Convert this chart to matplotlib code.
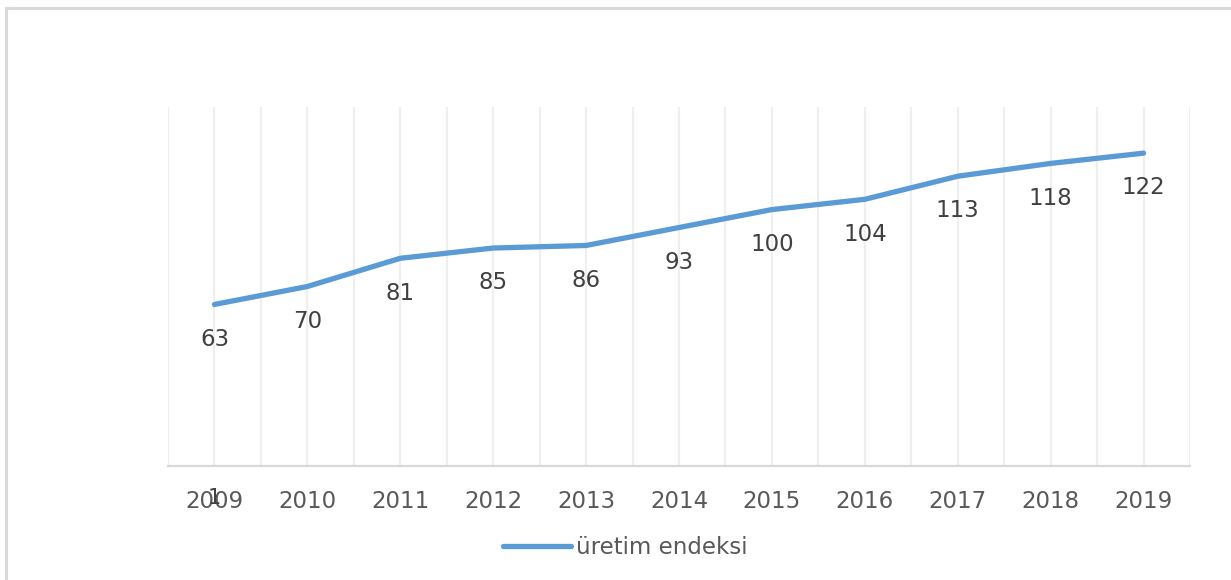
import matplotlib
matplotlib.use("Agg")
import matplotlib.pyplot as plt
from matplotlib.lines import Line2D

years = ["2009", "2010", "2011", "2012", "2013", "2014", "2015", "2016", "2017", "2018", "2019"]
values = [63, 70, 81, 85, 86, 93, 100, 104, 113, 118, 122]
series_name = "üretim endeksi"

W, H = 1231, 580
fig = plt.figure(figsize=(W / 100, H / 100), dpi=100)
fig.patch.set_facecolor("white")

ax = fig.add_axes([168 / W, 1 - 466 / H, (1190 - 168) / W, (466 - 107) / H])
x = list(range(len(years)))

# vertical gridlines at each category and half-category
for i in range(2 * len(years) + 1):
    gx = -0.5 + 0.5 * i
    ax.axvline(gx, color="#efefef", lw=1.6, zorder=0)

line_color = "#5b9bd5"
ax.plot(x, values, color=line_color, lw=3.8, solid_capstyle="round",
        solid_joinstyle="round", zorder=3)

label_color = "#404040"
for xi, v in zip(x, values):
    ax.annotate(str(v), (xi, v), xytext=(0, -25), textcoords="offset points",
                ha="center", va="center", fontsize=16.5, color=label_color)

ax.set_xlim(-0.5, len(years) - 0.5)
ax.set_ylim(0, 140)
ax.set_xticks(x)
ax.set_xticklabels(years, fontsize=16.5, color="#595959")
ax.tick_params(axis="x", length=0, pad=17)
ax.set_yticks([])
for s in ["top", "right", "left"]:
    ax.spines[s].set_visible(False)
ax.spines["bottom"].set_color("#d9d9d9")
ax.spines["bottom"].set_linewidth(1.6)

# stray overlapping "1" under the first tick label
ax.annotate("1", (0, 0), xytext=(0, -23), textcoords="offset points",
            ha="center", va="center", fontsize=15, color="#404040",
            annotation_clip=False)

handle = Line2D([], [], color=line_color, lw=3.8, solid_capstyle="round")
fig.legend([handle], [series_name], loc="center",
           bbox_to_anchor=(625 / W, 1 - 548 / H), frameon=False,
           fontsize=16.5, handlelength=3.0, handletextpad=0.2,
           labelcolor="#595959")

# outer border (left and top)
fig.add_artist(Line2D([6 / W, 6 / W], [0, 1 - 8 / H], transform=fig.transFigure,
                      color="#d9d9d9", lw=2.2))
fig.add_artist(Line2D([6 / W, 1], [1 - 8 / H, 1 - 8 / H], transform=fig.transFigure,
                      color="#d9d9d9", lw=2.2))

fig.savefig("out.png", dpi=100)
